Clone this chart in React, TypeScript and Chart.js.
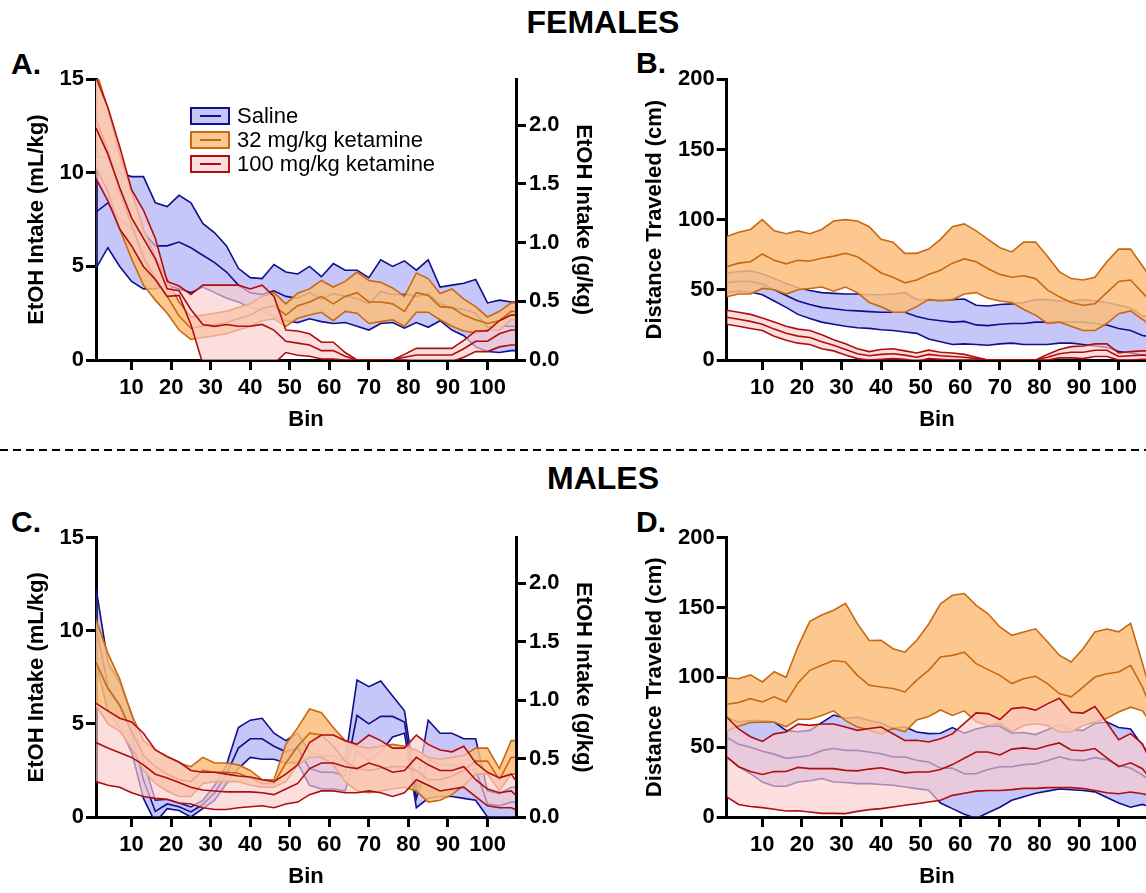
import React, { useEffect, useRef } from 'react';
import { Chart, registerables } from 'chart.js';

Chart.register(...registerables);

const FONT = '"Liberation Sans", Arial, Helvetica, sans-serif';

// ---- data ----
const BINS = [1, 4, 7, 10, 13, 16, 19, 22, 25, 28, 31, 34, 37, 40, 43, 46, 49, 52, 55, 58, 61, 64, 67, 70, 73, 76, 79, 82, 85, 88, 91, 94, 97, 100, 103, 106, 107];
const X_TICKS = [10, 20, 30, 40, 50, 60, 70, 80, 90, 100];
const G_TICKS = [0, 0.5, 1.0, 1.5, 2.0];

// A. Females EtOH intake (mL/kg), mean and SEM
const A_SAL_MEAN = [7.9, 8.4, 7.5, 7.0, 6.8, 6.1, 6.1, 6.3, 6.0, 5.6, 5.2, 4.7, 4.0, 3.6, 3.5, 3.7, 3.4, 3.3, 3.6, 3.25, 3.55, 3.4, 3.3, 3.0, 3.65, 3.5, 3.5, 3.4, 3.55, 3.0, 2.8, 2.7, 2.5, 1.75, 1.8, 1.8, 1.8];
const A_SAL_SEM = [3.0, 2.4, 2.5, 2.8, 3.0, 2.3, 2.1, 2.5, 2.4, 1.7, 1.6, 1.4, 0.9, 0.8, 0.85, 1.4, 1.3, 1.3, 1.4, 1.2, 1.6, 1.4, 1.5, 1.4, 1.7, 1.5, 1.8, 1.4, 1.8, 0.9, 1.2, 1.4, 1.8, 1.3, 1.4, 1.3, 1.3];
const A_K32_MEAN = [12.9, 11.2, 9.0, 7.2, 5.5, 4.35, 3.4, 2.35, 1.7, 1.8, 1.9, 2.0, 2.2, 2.4, 2.75, 2.9, 2.4, 2.9, 3.1, 3.4, 3.0, 3.4, 3.6, 3.1, 3.1, 3.0, 2.6, 3.6, 3.45, 2.85, 2.8, 2.4, 2.15, 1.95, 2.1, 2.6, 2.6];
const A_K32_SEM = [2.6, 2.2, 2.0, 1.8, 1.5, 1.15, 0.9, 0.75, 0.6, 0.6, 0.6, 0.6, 0.6, 0.6, 0.65, 0.7, 0.6, 0.67, 0.7, 0.85, 0.9, 0.8, 1.1, 1.15, 1.05, 0.85, 0.8, 1.05, 0.9, 0.7, 1.0, 0.85, 0.7, 0.35, 0.5, 0.45, 0.45];
const A_K100_MEAN = [12.4, 11.0, 9.2, 7.6, 6.5, 5.4, 3.8, 3.7, 2.7, 1.9, 1.8, 1.9, 1.8, 1.8, 1.9, 1.6, 1.0, 0.9, 0.8, 0.5, 0.5, 0.2, 0, 0, 0, 0, 0.15, 0.27, 0.27, 0.27, 0.27, 0.6, 1.0, 1.0, 1.4, 1.6, 1.6];
const A_K100_SEM = [2.7, 2.5, 2.2, 1.5, 1.5, 1.1, 0.4, 0.25, 0.8, 2.1, 2.2, 2.1, 2.2, 2.0, 2.1, 1.8, 0.6, 0.65, 0.6, 0.45, 0.45, 0.2, 0, 0, 0, 0, 0.15, 0.35, 0.35, 0.35, 0.35, 0.45, 0.55, 0.55, 0.7, 0.8, 0.8];

// B. Females distance traveled (cm)
const B_SAL_MEAN = [55, 56, 56, 54, 50, 46, 42, 39.5, 37.5, 36.5, 35.5, 35, 34.5, 34, 34, 34, 31, 29, 28, 27, 27.5, 25, 24.5, 25.5, 26, 26, 27, 27, 27, 27, 27, 26, 25, 22.5, 21, 17.5, 17];
const B_SAL_SEM = [7, 7, 7.5, 7.5, 8, 8.5, 9.5, 10, 10.5, 11, 11.5, 12, 12, 12.5, 13, 14, 12, 14, 15, 16, 16, 14, 14, 14, 14, 15, 16, 16, 15, 15, 16, 16, 16, 16.5, 16, 14, 14];
const B_K32_MEAN = [66.5, 69, 70, 75.5, 71, 68.5, 71, 70.5, 72.5, 74, 76, 73.5, 68, 62, 59, 55, 57, 61, 64, 69, 72, 70, 65, 61, 59, 60, 58, 50, 45, 41, 39, 40, 48, 56, 57, 48, 45];
const B_K32_SEM = [21.5, 22, 23, 24.5, 21, 21.5, 21, 19.5, 20.5, 25, 24, 25.5, 27, 24, 25, 21, 19, 18, 22, 26, 25, 22, 21, 19, 18, 24, 26, 24, 18, 17, 18, 19, 22, 23, 22, 19, 18];
const B_K100_MEAN = [30.5, 29, 27.5, 25.5, 22, 19, 17, 16, 13, 10.5, 7.5, 4.5, 3, 4, 4.5, 3.5, 2, 4, 3, 2.5, 2, 1, 0, 0, 0, 0, 0, 2, 4.5, 5.5, 5.5, 7, 7, 2.5, 3, 3.5, 3.5];
const B_K100_SEM = [5, 5, 5, 4.5, 5, 5, 5, 5, 5, 4, 4, 3.5, 3, 3.5, 3.5, 3, 3, 3, 2.5, 2.5, 2, 1, 0, 0, 0, 0, 0, 2, 3, 4, 4.5, 4.5, 4.5, 2.5, 3, 3, 3];

// C. Males EtOH intake (mL/kg)
const C_SAL_MEAN = [10.3, 7.0, 6.0, 4.5, 2.0, 0.3, 0.7, 0.55, 0.27, 0.67, 1.3, 2.3, 3.7, 4.2, 4.2, 3.8, 3.5, 3.7, 2.6, 2.4, 2.4, 2.2, 5.45, 5.0, 5.4, 5.4, 5.1, 1.0, 3.1, 2.8, 2.8, 2.6, 2.55, 0.7, 0.6, 0.8, 0.8];
const C_SAL_SEM = [2.0, 1.3, 1.2, 1.0, 1.0, 0.6, 0.25, 0.2, 0.27, 0.22, 0.4, 0.5, 1.1, 1.0, 1.1, 0.7, 0.6, 0.8, 0.9, 0.9, 0.9, 0.8, 1.9, 2.0, 1.9, 1.1, 0.6, 0.5, 2.1, 1.7, 1.7, 1.6, 1.65, 0.7, 0.65, 0.8, 0.8];
const C_K32_MEAN = [8.3, 6.9, 6.0, 4.6, 3.3, 2.7, 2.3, 2.0, 1.9, 2.5, 2.4, 2.4, 2.35, 2.1, 1.8, 1.8, 2.9, 3.8, 4.5, 4.4, 3.8, 3.0, 2.6, 2.5, 2.6, 2.7, 2.7, 2.5, 2.0, 2.0, 2.2, 2.5, 3.0, 3.0, 2.0, 3.2, 3.2];
const C_K32_SEM = [2.3, 1.9, 1.4, 0.9, 0.8, 0.9, 0.9, 0.9, 0.8, 0.7, 0.5, 0.5, 0.45, 0.4, 0.2, 0.2, 1.0, 1.0, 1.3, 1.2, 1.0, 1.1, 1.2, 1.2, 1.2, 1.2, 1.1, 1.1, 1.2, 1.1, 1.0, 0.8, 0.7, 0.7, 0.6, 0.9, 0.9];
const C_K100_MEAN = [4.0, 3.7, 3.45, 3.2, 2.8, 2.3, 2.1, 1.85, 1.6, 1.45, 1.4, 1.35, 1.35, 1.35, 1.3, 1.2, 1.5, 1.8, 2.6, 2.9, 2.9, 2.7, 2.6, 2.9, 2.7, 2.4, 2.5, 3.2, 2.8, 2.5, 2.5, 2.7, 2.0, 1.5, 1.3, 1.4, 1.2];
const C_K100_SEM = [2.1, 2.0, 1.85, 1.9, 1.7, 1.3, 1.15, 1.1, 0.9, 0.95, 1.0, 0.95, 0.85, 0.8, 0.7, 0.7, 0.8, 1.0, 1.4, 1.5, 1.5, 1.4, 1.3, 1.5, 1.4, 1.3, 1.2, 1.2, 1.1, 1.1, 1.0, 1.1, 0.9, 0.9, 0.8, 0.9, 0.8];

// D. Males distance traveled (cm)
const D_SAL_MEAN = [57, 52, 50, 47, 45, 42, 43, 44, 47.5, 49, 47.7, 47.7, 46.5, 45.3, 43, 43, 40.6, 39.4, 35, 35, 31, 31, 34, 36, 36, 37.5, 38, 40.5, 43, 41, 40.5, 42.5, 41, 37, 35, 30, 28];
const D_SAL_SEM = [14, 16, 19, 22, 23, 20, 18, 18, 20, 24, 23, 23.8, 22.6, 22, 20.3, 21.5, 20.3, 20.3, 25, 29, 29, 32, 31, 29, 24, 23, 21, 22, 23, 21.5, 21.5, 24.5, 27, 27, 28, 21, 20];
const D_K32_MEAN = [80.7, 82, 84.7, 82.3, 86, 82.3, 96, 105, 108.6, 112, 111, 101.4, 94.3, 93, 92, 89.5, 98, 105, 114.6, 115.7, 118, 109.8, 105.5, 101.4, 95.5, 99, 100.7, 95.5, 88.3, 86, 93, 100.2, 102.6, 103.8, 108.6, 93, 86];
const D_K32_SEM = [19, 17, 17, 14.4, 18, 17.7, 26, 35, 36, 36, 42, 37, 32, 33.5, 28.5, 28.5, 28.5, 33, 38, 43, 42, 41.7, 40, 34.6, 34.5, 33.5, 34, 30, 27.5, 25, 27.5, 32.3, 32, 28.7, 30, 17, 14];
const D_K100_MEAN = [43, 36, 32.5, 30.4, 32.5, 32.6, 35.5, 34.6, 34.6, 34.6, 33.4, 33, 34.3, 35.2, 33.4, 31.6, 32.2, 32.2, 34, 37.5, 42, 46.5, 46.5, 44.4, 48.6, 49.5, 48.5, 51, 53, 48, 47.4, 49, 42.4, 36, 38.8, 34.6, 31];
const D_K100_SEM = [28.6, 27, 25, 23.7, 27, 28.3, 31, 31, 32, 32, 31, 29, 29, 29.2, 26.2, 23.2, 22.7, 21.5, 22, 22, 25, 28, 27.5, 25.4, 29, 29, 28, 30, 32, 27, 27, 30, 25, 19.4, 20.9, 17.9, 15];

const LEGEND_LABELS = ['Saline', '32 mg/kg ketamine', '100 mg/kg ketamine'];

// ---- styles ----
const SAL = { line: '#10108a', fill: 'rgba(120,120,240,0.42)', solid: 'rgb(198,198,249)' };
const K32 = { line: '#c8690f', fill: 'rgba(252,190,125,0.85)', solid: 'rgb(252,200,145)' };
const K100 = { line: '#b00e0e', fill: 'rgba(250,205,205,0.65)', solid: 'rgb(252,222,222)' };

type Series = { mean: number[]; sem: number[]; line: string; fill: string };

function buildDatasets(series: Series[]) {
  const ds: any[] = [];
  for (const s of series) {
    const base = { borderColor: s.line, borderWidth: 1.6, pointRadius: 0, tension: 0, yAxisID: 'y' };
    ds.push({ ...base, data: BINS.map((b, i) => ({ x: b, y: s.mean[i] })), fill: false });
    ds.push({ ...base, data: BINS.map((b, i) => ({ x: b, y: s.mean[i] - s.sem[i] })), fill: false });
    ds.push({ ...base, data: BINS.map((b, i) => ({ x: b, y: s.mean[i] + s.sem[i] })), fill: '-1', backgroundColor: s.fill });
  }
  return ds;
}

const tickFont = { family: FONT, size: 22, weight: 'bold' as const };
const titleFont = { family: FONT, size: 22, weight: 'bold' as const };

type PanelProps = {
  left: number; top: number; width: number; height: number;
  padTop: number; padRight: number; yWidth: number; yTitle: string; yMax: number; yStep: number;
  yTitlePad: number; right: boolean; series: Series[];
};

function Panel(p: PanelProps) {
  const ref = useRef<HTMLCanvasElement>(null);
  useEffect(() => {
    const axisCommon = {
      border: { display: true, color: '#000', width: 3 },
      grid: { drawOnChartArea: false, drawTicks: true, tickLength: 10, tickWidth: 3, tickColor: '#000', color: '#000', lineWidth: 3 },
    };
    const scales: any = {
      x: {
        type: 'linear', min: 1, max: 107.2, ...axisCommon,
        afterBuildTicks: (s: any) => { s.ticks = X_TICKS.map((v) => ({ value: v })); },
        ticks: { font: tickFont, color: '#000', padding: 5, maxRotation: 0, autoSkip: false },
        title: { display: true, text: 'Bin', font: titleFont, color: '#000', padding: { top: 0, bottom: 6.8 } },
        afterFit: (s: any) => { s.height = 80; },
      },
      y: {
        type: 'linear', position: 'left', min: 0, max: p.yMax, ...axisCommon,
        ticks: { stepSize: p.yStep, font: tickFont, color: '#000', padding: 2 },
        title: { display: true, text: p.yTitle, font: titleFont, color: '#000', padding: { top: p.yTitlePad, bottom: 0 } },
        afterFit: (s: any) => { s.width = p.yWidth; },
      },
    };
    if (p.right) {
      scales.y2 = {
        type: 'linear', position: 'right', min: 0, max: 2.39, ...axisCommon,
        afterBuildTicks: (s: any) => { s.ticks = G_TICKS.map((v) => ({ value: v })); },
        ticks: { font: tickFont, color: '#000', padding: 3, callback: (v: any) => Number(v).toFixed(1) },
        title: { display: true, text: 'EtOH Intake (g/kg)', font: titleFont, color: '#000', padding: { top: 23.8, bottom: 0 } },
        afterFit: (s: any) => { s.width = p.width - 516; },
      };
    }
    const chart = new Chart(ref.current as HTMLCanvasElement, {
      type: 'line',
      data: { datasets: buildDatasets(p.series) },
      options: {
        responsive: false,
        maintainAspectRatio: false,
        devicePixelRatio: 1,
        animation: false,
        events: [],
        layout: { padding: { top: p.padTop, right: p.padRight, left: 0, bottom: 0 } },
        plugins: { legend: { display: false }, tooltip: { enabled: false } },
        scales,
      } as any,
    });
    return () => chart.destroy();
  }, []);
  return (
    <canvas
      ref={ref}
      width={p.width}
      height={p.height}
      style={{ position: 'absolute', left: p.left, top: p.top, width: p.width, height: p.height }}
    />
  );
}

function Legend() {
  const items = [SAL, K32, K100];
  return (
    <>
      {items.map((c, i) => {
        const cy = 116 + i * 24;
        return (
          <React.Fragment key={i}>
            <div style={{ position: 'absolute', left: 190, top: cy - 9, width: 40, height: 18, boxSizing: 'border-box', border: `2px solid ${c.line}`, background: c.solid }}>
              <div style={{ position: 'absolute', left: 8, top: 6, width: 21, height: 2, background: c.line }} />
            </div>
            <div style={{ position: 'absolute', left: 237, top: cy - 15, height: 30, lineHeight: '30px', fontFamily: FONT, fontSize: 22, color: '#000', whiteSpace: 'nowrap' }}>
              {LEGEND_LABELS[i]}
            </div>
          </React.Fragment>
        );
      })}
    </>
  );
}

const textStyle = (left: number, top: number, size: number, extra: any = {}) => ({
  position: 'absolute' as const, left, top, fontFamily: FONT, fontWeight: 'bold' as const, fontSize: size,
  lineHeight: '44px', color: '#000', whiteSpace: 'nowrap' as const, ...extra,
});

export default function App() {
  const seriesA: Series[] = [
    { mean: A_K100_MEAN, sem: A_K100_SEM, ...K100 },
    { mean: A_K32_MEAN, sem: A_K32_SEM, ...K32 },
    { mean: A_SAL_MEAN, sem: A_SAL_SEM, ...SAL },
  ];
  const seriesB: Series[] = [
    { mean: B_K100_MEAN, sem: B_K100_SEM, ...K100 },
    { mean: B_K32_MEAN, sem: B_K32_SEM, ...K32 },
    { mean: B_SAL_MEAN, sem: B_SAL_SEM, ...SAL },
  ];
  const seriesC: Series[] = [
    { mean: C_K100_MEAN, sem: C_K100_SEM, ...K100 },
    { mean: C_K32_MEAN, sem: C_K32_SEM, ...K32 },
    { mean: C_SAL_MEAN, sem: C_SAL_SEM, ...SAL },
  ];
  const seriesD: Series[] = [
    { mean: D_K100_MEAN, sem: D_K100_SEM, ...K100 },
    { mean: D_K32_MEAN, sem: D_K32_SEM, ...K32 },
    { mean: D_SAL_MEAN, sem: D_SAL_SEM, ...SAL },
  ];
  return (
    <div style={{ position: 'fixed', left: 0, top: 0, width: 1146, height: 893, overflow: 'hidden', background: '#fff' }}>
      <div style={textStyle(503, 0, 32, { width: 200, textAlign: 'center' })}>FEMALES</div>
      <div style={textStyle(503, 456, 32, { width: 200, textAlign: 'center' })}>MALES</div>
      <div style={textStyle(11, 42, 30)}>A.</div>
      <div style={textStyle(636, 41, 30)}>B.</div>
      <div style={textStyle(11, 500, 30)}>C.</div>
      <div style={textStyle(636, 500, 30)}>D.</div>
      <div style={{ position: 'absolute', left: 0, top: 449, width: 1146, height: 2, background: 'repeating-linear-gradient(to right, #000 0px, #000 8px, transparent 8px, transparent 13px)' }} />

      <Panel left={0} top={60} width={620} height={380} padTop={19.3} padRight={0} yWidth={96}
        yTitle="EtOH Intake (mL/kg)" yMax={15} yStep={5} yTitlePad={23.8} right={true} series={seriesA} />
      <Panel left={620} top={60} width={540} height={380} padTop={19.3} padRight={12.8} yWidth={106.7}
        yTitle="Distance Traveled (cm)" yMax={200} yStep={50} yTitlePad={21.8} right={false} series={seriesB} />
      <Panel left={0} top={516.7} width={620} height={380} padTop={20.6} padRight={0} yWidth={96}
        yTitle="EtOH Intake (mL/kg)" yMax={15} yStep={5} yTitlePad={23.8} right={true} series={seriesC} />
      <Panel left={620} top={516.7} width={540} height={380} padTop={20.6} padRight={12.8} yWidth={106.7}
        yTitle="Distance Traveled (cm)" yMax={200} yStep={50} yTitlePad={21.8} right={false} series={seriesD} />
      <Legend />
    </div>
  );
}
